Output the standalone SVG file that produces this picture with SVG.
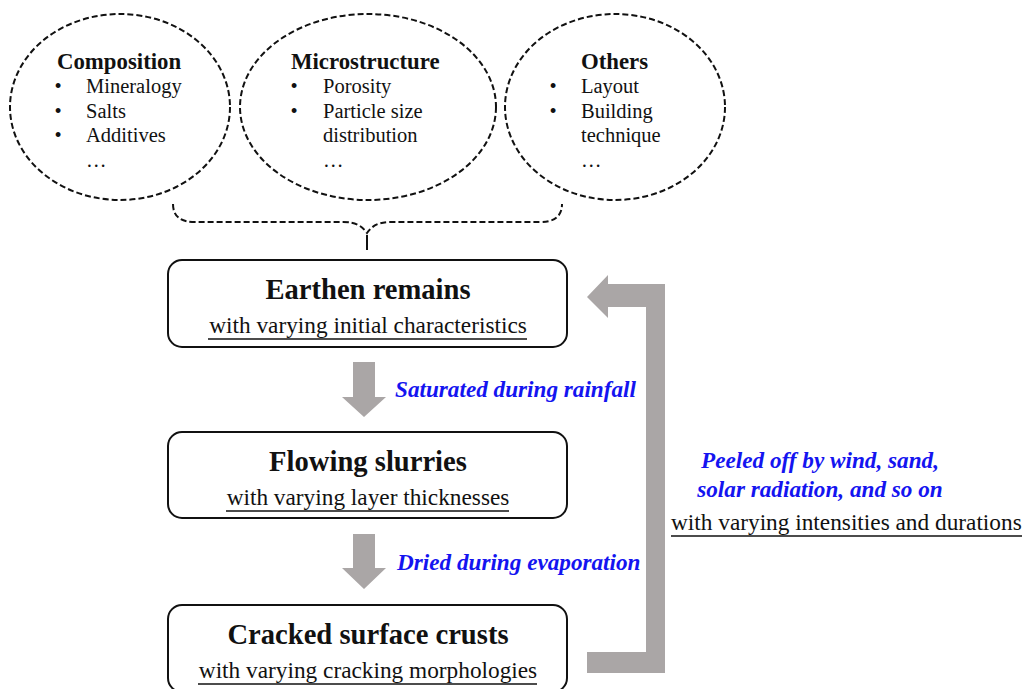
<svg xmlns="http://www.w3.org/2000/svg" width="1022" height="689" viewBox="0 0 1022 689">
<defs>
<style>
.dash{fill:none;stroke:#111;stroke-width:2;stroke-dasharray:6 3}
.box{fill:#fff;stroke:#111;stroke-width:2}
.arr{fill:#aaa6a6;stroke:none}
.t{font-family:"Liberation Serif","Times New Roman",serif;fill:#111}
.hd{font-weight:bold;font-size:22.8px}
.it{font-size:20.5px}
.bt{font-weight:bold;font-size:28.6px}
.st{font-size:23.3px}
.bl{font-family:"Liberation Serif","Times New Roman",serif;font-weight:bold;font-style:italic;font-size:23.2px;fill:#1414f0}
.ul{stroke:#111;stroke-width:1.5}
</style>
</defs>
<rect width="1022" height="689" fill="#fff"/>

<g id="composition">
<ellipse class="dash" cx="120" cy="107" rx="110" ry="93"/>
<text class="t hd" x="57" y="69">Composition</text>
<text class="t it" x="58" y="93" text-anchor="middle">•</text><text class="t it" x="86" y="93">Mineralogy</text>
<text class="t it" x="58" y="118" text-anchor="middle">•</text><text class="t it" x="86" y="118">Salts</text>
<text class="t it" x="58" y="142" text-anchor="middle">•</text><text class="t it" x="86" y="142">Additives</text>
<text class="t it" x="86" y="167">…</text>
</g>

<g id="microstructure">
<ellipse class="dash" cx="368" cy="107" rx="128" ry="93"/>
<text class="t hd" x="291" y="69">Microstructure</text>
<text class="t it" x="294" y="93" text-anchor="middle">•</text><text class="t it" x="323" y="93">Porosity</text>
<text class="t it" x="294" y="118" text-anchor="middle">•</text><text class="t it" x="323" y="118">Particle size</text>
<text class="t it" x="323" y="142">distribution</text>
<text class="t it" x="323" y="167">…</text>
</g>

<g id="others">
<ellipse class="dash" cx="615" cy="107" rx="110" ry="93"/>
<text class="t hd" x="581" y="69">Others</text>
<text class="t it" x="553" y="93" text-anchor="middle">•</text><text class="t it" x="581" y="93">Layout</text>
<text class="t it" x="553" y="118" text-anchor="middle">•</text><text class="t it" x="581" y="118">Building</text>
<text class="t it" x="581" y="142">technique</text>
<text class="t it" x="581" y="167">…</text>
</g>

<g id="brace">
<path class="dash" d="M173,204 C173,216 180,222 195,222 L343,222 C356,222 362,226 367,233 C372,226 378,222 391,222 L540,222 C555,222 562,216 562,204"/>
<path class="dash" d="M367,235 L367,250" style="stroke-dasharray:none"/>
</g>

<g id="earthen">
<rect class="box" x="168" y="260" width="399" height="87" rx="14"/>
<text class="t bt" x="368" y="299" text-anchor="middle">Earthen remains</text>
<text class="t st" x="368" y="333" text-anchor="middle">with varying initial characteristics</text>
<line class="ul" x1="208" y1="339" x2="527" y2="339"/>
</g>

<g id="slurries">
<rect class="box" x="168" y="432" width="399" height="86" rx="14"/>
<text class="t bt" x="368" y="471" text-anchor="middle">Flowing slurries</text>
<text class="t st" x="368" y="505" text-anchor="middle">with varying layer thicknesses</text>
<line class="ul" x1="226" y1="511" x2="509" y2="511"/>
</g>

<g id="crusts">
<rect class="box" x="168" y="605" width="399" height="87" rx="14"/>
<text class="t bt" x="368" y="644" text-anchor="middle">Cracked surface crusts</text>
<text class="t st" x="368" y="678" text-anchor="middle">with varying cracking morphologies</text>
<line class="ul" x1="198" y1="684" x2="537" y2="684"/>
</g>

<g id="connectors">
<polygon class="arr" points="353,362 375,362 375,397 386,397 364,417 342,397 353,397"/>
<polygon class="arr" points="353,534 375,534 375,568 386,568 364,589 342,568 353,568"/>
<polygon class="arr" points="587,297 608,275 608,284 665,284 665,673 587,673 587,652 646,652 646,307 608,307 608,318"/>
</g>

<g id="labels">
<text class="bl" x="395" y="397">Saturated during rainfall</text>
<text class="bl" x="397" y="570">Dried during evaporation</text>
<text class="bl" x="820" y="468" text-anchor="middle">Peeled off by wind, sand,</text>
<text class="bl" x="820" y="497" text-anchor="middle">solar radiation, and so on</text>
<text class="t st" x="671" y="530">with varying intensities and durations</text>
<line class="ul" x1="671" y1="536" x2="1022" y2="536"/>
</g>
</svg>
